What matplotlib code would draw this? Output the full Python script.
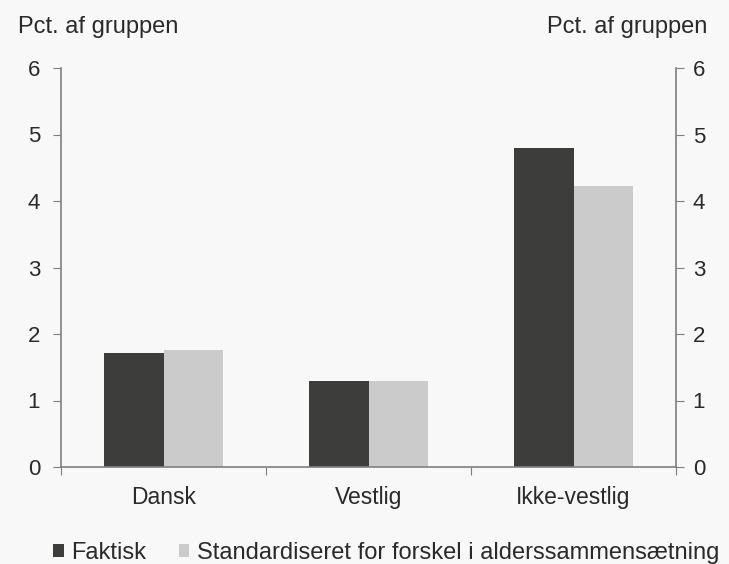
import numpy as np
import matplotlib
matplotlib.use('Agg')
from matplotlib import pyplot as plt

plt.rcParams['font.family'] = ['Liberation Sans', 'DejaVu Sans']
plt.rcParams['font.size'] = 16

categories = ['Dansk', 'Vestlig', 'Ikke-vestlig']
faktisk = [1.71, 1.29, 4.80]
standardiseret = [1.76, 1.30, 4.23]
series_labels = ['Faktisk', 'Standardiseret for forskel i alderssammensætning']
yticks = [0, 1, 2, 3, 4, 5, 6]

bg = '#f8f8f8'
dark = '#3d3d3b'
light = '#cbcbcb'
spine = '#7f7f7f'
txt = '#2a2a2a'

fig = plt.figure(figsize=(7.29, 5.64), dpi=100, facecolor=bg)
ax = fig.add_axes([61 / 729, 1 - 467 / 564, 615 / 729, 399 / 564], facecolor=bg)

x = np.arange(len(categories))
w = 0.288
b1 = ax.bar(x - w / 2, faktisk, w, color=dark, label=series_labels[0])
b2 = ax.bar(x + w / 2, standardiseret, w, color=light, label=series_labels[1])

ax.set_xlim(-0.5, 2.5)
ax.set_ylim(0, 6)
ax.set_yticks(yticks)
ax.set_xticks([-0.5, 0.5, 1.5, 2.5])
ax.set_xticklabels([])
ax.set_xticks(x, minor=True)
ax.set_xticklabels(categories, minor=True)
ax.tick_params(axis='x', which='minor', length=0, pad=14, labelsize=16.5, labelcolor=txt)
ax.tick_params(axis='x', which='major', length=6, direction='out', color=spine)
ax.tick_params(axis='y', length=6, direction='out', color=spine, labelcolor=txt,
               labelsize=16, pad=9)

for s in ['top', 'right']:
    ax.spines[s].set_visible(False)
ax.spines['left'].set_color(spine)
ax.spines['bottom'].set_color(spine)
ax.spines['left'].set_linewidth(1.2)
ax.spines['bottom'].set_linewidth(1.2)

ax2 = ax.twinx()
ax2.set_ylim(0, 6)
ax2.set_yticks(yticks)
ax2.tick_params(axis='y', length=6, direction='out', color=spine, labelcolor=txt,
                labelsize=16, pad=6)
for s in ['top', 'left', 'bottom']:
    ax2.spines[s].set_visible(False)
ax2.spines['right'].set_color(spine)
ax2.spines['right'].set_linewidth(1.2)

fig.text(18 / 729, 1 - 27 / 564, 'Pct. af gruppen', ha='left', va='center', color=txt,
         fontsize=17)
fig.text(707 / 729, 1 - 27 / 564, 'Pct. af gruppen', ha='right', va='center', color=txt,
         fontsize=17)

leg = fig.legend(handles=[b1, b2], loc='center', bbox_to_anchor=(386 / 729, 1 - 553 / 564),
                 ncol=2, frameon=False, handlelength=0.45, handleheight=0.45,
                 handletextpad=0.3, columnspacing=1.4, fontsize=17)
for t in leg.get_texts():
    t.set_color(txt)

fig.savefig('out.png', dpi=100, facecolor=bg)
